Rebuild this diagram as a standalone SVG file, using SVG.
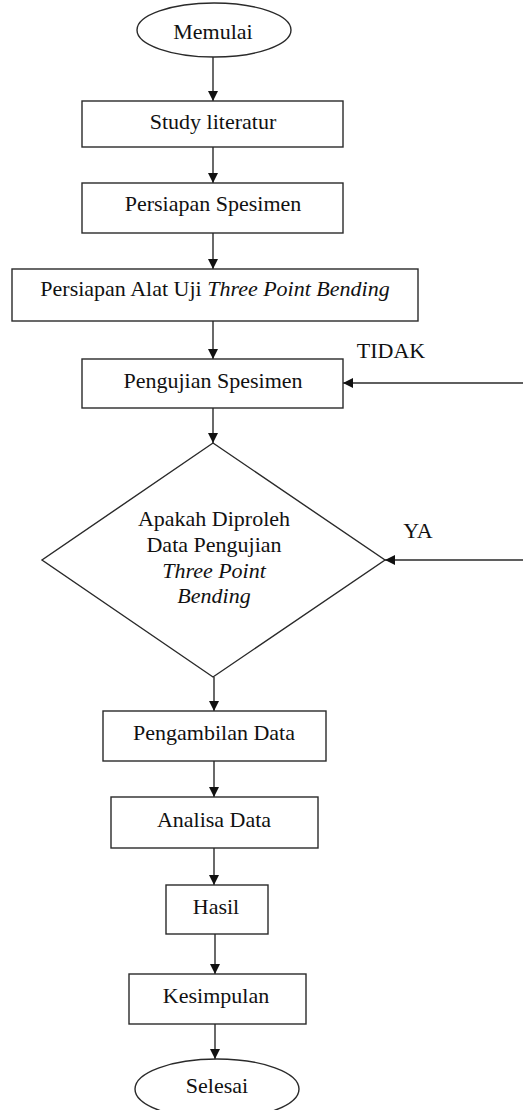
<svg xmlns="http://www.w3.org/2000/svg" width="523" height="1110" viewBox="0 0 523 1110" font-family="'Liberation Serif', 'Times New Roman', serif">
  <style>
    .shape { fill: #ffffff; stroke: #2a2a2a; stroke-width: 1.4; }
    text { font-family: "Liberation Serif", "Times New Roman", serif; font-size: 22px; fill: #111111; text-anchor: middle; }
    .it { font-style: italic; }
    .edge { stroke: #2a2a2a; stroke-width: 1.4; fill: none; marker-end: url(#arrow); }
  </style>
  <defs>
    <marker id="arrow" viewBox="0 0 10 10" refX="10" refY="5" markerWidth="11" markerHeight="10" markerUnits="userSpaceOnUse" orient="auto">
      <path d="M0,0 L10,5 L0,10 z" fill="#111111"/>
    </marker>
  </defs>

  <rect width="523" height="1110" fill="#ffffff"/>

  <!-- connectors -->
  <g id="connectors">
    <line class="edge" x1="213" y1="57" x2="213" y2="101"/>
    <line class="edge" x1="213" y1="147" x2="213" y2="183"/>
    <line class="edge" x1="213" y1="233" x2="213" y2="269"/>
    <line class="edge" x1="213" y1="321" x2="213" y2="359"/>
    <line class="edge" x1="213" y1="408" x2="213" y2="443"/>
    <line class="edge" x1="214" y1="677" x2="214" y2="711"/>
    <line class="edge" x1="214" y1="761" x2="214" y2="797"/>
    <line class="edge" x1="214" y1="848" x2="214" y2="885"/>
    <line class="edge" x1="215" y1="934" x2="215" y2="974"/>
    <line class="edge" x1="215" y1="1024" x2="215" y2="1059"/>
    <!-- return loops from the right edge -->
    <line class="edge" x1="523" y1="383" x2="343" y2="383"/>
    <line class="edge" x1="523" y1="560" x2="385" y2="560"/>
    <text x="391" y="358">TIDAK</text>
    <text x="418" y="538">YA</text>
  </g>

  <g id="start">
    <ellipse class="shape" cx="214" cy="30" rx="77" ry="27"/>
    <text x="213" y="39">Memulai</text>
  </g>

  <g id="study">
    <rect class="shape" x="82" y="101" width="261" height="46"/>
    <text x="213" y="129">Study literatur</text>
  </g>

  <g id="prep-specimen">
    <rect class="shape" x="82" y="183" width="261" height="50"/>
    <text x="213" y="211">Persiapan Spesimen</text>
  </g>

  <g id="prep-tool">
    <rect class="shape" x="12" y="269" width="406" height="52"/>
    <text x="215" y="296">Persiapan Alat Uji <tspan class="it">Three Point Bending</tspan></text>
  </g>

  <g id="testing">
    <rect class="shape" x="82" y="359" width="261" height="49"/>
    <text x="213" y="388">Pengujian Spesimen</text>
  </g>

  <g id="decision">
    <polygon class="shape" points="213,443 385,560 213,677 42,560"/>
    <text x="214" y="526">Apakah Diproleh</text>
    <text x="214" y="552">Data Pengujian</text>
    <text class="it" x="214" y="578">Three Point</text>
    <text class="it" x="214" y="603">Bending</text>
  </g>

  <g id="data-collection">
    <rect class="shape" x="103" y="711" width="223" height="50"/>
    <text x="214" y="740">Pengambilan Data</text>
  </g>

  <g id="analysis">
    <rect class="shape" x="111" y="797" width="207" height="51"/>
    <text x="214" y="827">Analisa Data</text>
  </g>

  <g id="result">
    <rect class="shape" x="166" y="885" width="102" height="49"/>
    <text x="216" y="914">Hasil</text>
  </g>

  <g id="conclusion">
    <rect class="shape" x="129" y="974" width="177" height="50"/>
    <text x="216" y="1003">Kesimpulan</text>
  </g>

  <g id="end">
    <ellipse class="shape" cx="217" cy="1089" rx="82" ry="30"/>
    <text x="217" y="1093">Selesai</text>
  </g>
</svg>
